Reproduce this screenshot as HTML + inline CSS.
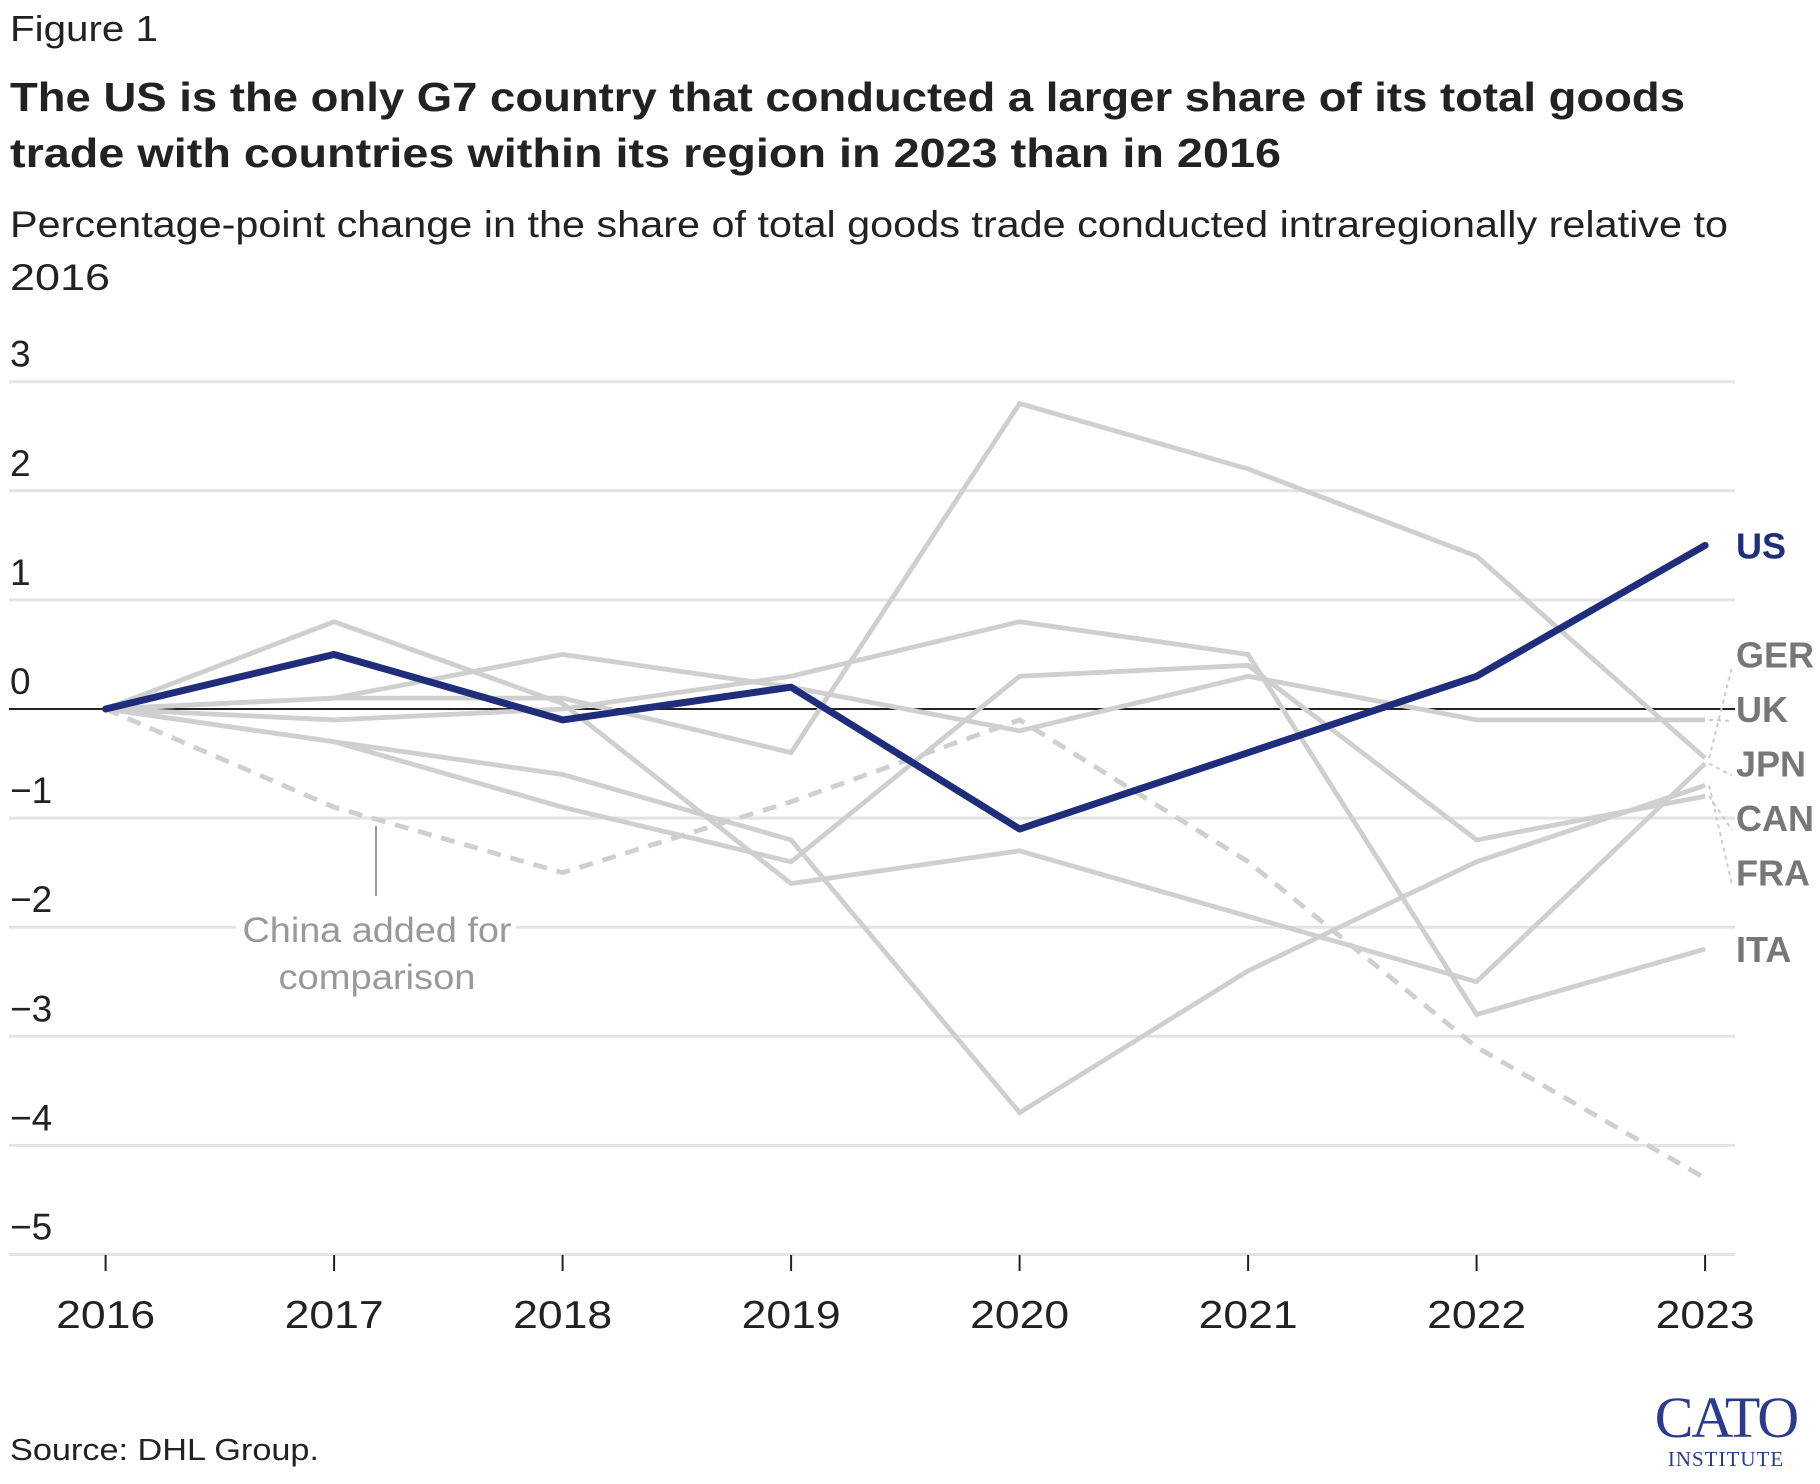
<!DOCTYPE html>
<html><head><meta charset="utf-8">
<style>
html,body{margin:0;padding:0;background:#fff;}
svg{display:block;font-family:"Liberation Sans",sans-serif;}
</style></head>
<body>
<svg id="chart" width="1820" height="1484" viewBox="0 0 1820 1484" xmlns="http://www.w3.org/2000/svg">
<text x="10" y="41" font-size="36" fill="#222" textLength="148" lengthAdjust="spacingAndGlyphs">Figure 1</text>
<text font-size="41" font-weight="bold" fill="#222">
<tspan x="10" y="111" textLength="1675" lengthAdjust="spacingAndGlyphs">The US is the only G7 country that conducted a larger share of its total goods</tspan>
<tspan x="10" y="167" textLength="1271" lengthAdjust="spacingAndGlyphs">trade with countries within its region in 2023 than in 2016</tspan></text>
<text font-size="37" fill="#222">
<tspan x="10" y="237" textLength="1718" lengthAdjust="spacingAndGlyphs">Percentage-point change in the share of total goods trade conducted intraregionally relative to</tspan>
<tspan x="10" y="290" textLength="100" lengthAdjust="spacingAndGlyphs">2016</tspan></text>
<g id="grid"></g>
<g id="series"></g>
<g id="labels"></g>
<line x1="376" y1="826" x2="376" y2="896" stroke="#999" stroke-width="2"/>
<rect x="236" y="912" width="280" height="30" fill="#fff"/>
<text font-size="35" fill="#999" text-anchor="middle">
<tspan x="377" y="942" textLength="269" lengthAdjust="spacingAndGlyphs">China added for</tspan><tspan x="377" y="989" textLength="197" lengthAdjust="spacingAndGlyphs">comparison</tspan></text>
<text x="10" y="1460" font-size="31" fill="#222" textLength="309" lengthAdjust="spacingAndGlyphs">Source: DHL Group.</text>
<g>
<text x="1726" y="1437" font-family="Liberation Serif,serif" font-size="58" fill="#2a3a8c" text-anchor="middle" letter-spacing="-2">CATO</text>
<text x="1726" y="1466" font-family="Liberation Serif,serif" font-size="21" fill="#2a3a8c" text-anchor="middle" letter-spacing="1">INSTITUTE</text>
</g>
</svg>
<script>
const years = [2016, 2017, 2018, 2019, 2020, 2021, 2022, 2023];
const yTicks = [3, 2, 1, 0, -1, -2, -3, -4, -5];
const usValues = [0, 0.5, -0.1, 0.2, -1.1, -0.4, 0.3, 1.5];
const chinaValues = [0, -0.9, -1.5, -0.85, -0.1, -1.4, -3.1, -4.3];
const lineA = [0, 0.8, 0.05, -1.6, -1.3, -1.9, -2.5, -0.5];
const lineB = [0, 0.1, 0.1, -0.4, 2.8, 2.2, 1.4, -0.45];
const lineD = [0, 0.1, 0.5, 0.2, -0.2, 0.3, -0.1, -0.1];
const lineE = [0, -0.1, 0, 0.3, 0.8, 0.5, -2.8, -2.2];
const lineF = [0, -0.3, -0.6, -1.2, -3.7, -2.4, -1.4, -0.7];
const lineG = [0, -0.3, -0.9, -1.4, 0.3, 0.4, -1.2, -0.8];
const labelNames = ["US", "GER", "UK", "JPN", "CAN", "FRA", "ITA"];
const labelValues = [1.5, 0.5, 0, -0.5, -1.0, -1.5, -2.2];

const NS = "http://www.w3.org/2000/svg";
const x = yr => 105.6 + (yr - 2016) * 228.5;
const y = v => 709 - v * 109.1;
function mk(tag, attrs, parent){const e=document.createElementNS(NS,tag);for(const k in attrs)e.setAttribute(k,attrs[k]);parent.appendChild(e);return e;}
const grid=document.getElementById('grid'), ser=document.getElementById('series'), lab=document.getElementById('labels');
yTicks.forEach(t=>{
  const l=mk('line',{x1:9,x2:1735,y1:y(t),y2:y(t),stroke:t===0?'#222':'#e3e3e3','stroke-width':t===0?2:3},grid);
  
  
  const tx=mk('text',{x:10,y:y(t)-15,'font-size':37,fill:'#222'},grid);
  tx.textContent=(t<0?'\u2212'+(-t):String(t));
  
  
});
years.forEach(yr=>{
  const tk=mk('line',{x1:x(yr),x2:x(yr),y1:1255,y2:1271,stroke:'#222','stroke-width':2},grid);
  
  
  const tx=mk('text',{x:x(yr),y:1328,'font-size':39,fill:'#222','text-anchor':'middle',textLength:99,lengthAdjust:'spacingAndGlyphs'},grid);
  tx.textContent=yr;
  
  
});
const pts=vals=>vals.map((v,i)=>x(years[i])+','+y(v)).join(' ');
[lineA,lineB,lineD,lineE,lineF,lineG].forEach(vals=>{
  const p=mk('polyline',{points:pts(vals),fill:'none',stroke:'#cfcfcf','stroke-width':4.8,'stroke-linejoin':'miter'},ser);
  
  
});
const ch=mk('polyline',{points:pts(chinaValues),fill:'none',stroke:'#cfcfcf','stroke-width':4.8,'stroke-dasharray':'14 10'},ser);


const us=mk('polyline',{points:pts(usValues),fill:'none',stroke:'#1f2d7a','stroke-width':7,'stroke-linecap':'round','stroke-linejoin':'round'},ser);


const gLabels=[0.5,0,-0.5,-1.0,-1.5];
const endOrder=[-0.45,-0.1,-0.5,-0.8,-0.7];
gLabels.forEach((lv,i)=>{
  const ld=mk('line',{x1:x(2023)+4,y1:y(endOrder[i]),x2:1732,y2:y(lv)+12,stroke:'#ccc','stroke-width':2,'stroke-dasharray':'4 4'},lab);
  
  
});
labelNames.forEach((n,i)=>{
  const t=mk('text',{x:1736,y:y(labelValues[i])+13,'font-size':36,'font-weight':'bold',fill:n==='US'?'#1f2d7a':'#777'},lab);
  t.textContent=n;
  
  
});
</script>
</body></html>
